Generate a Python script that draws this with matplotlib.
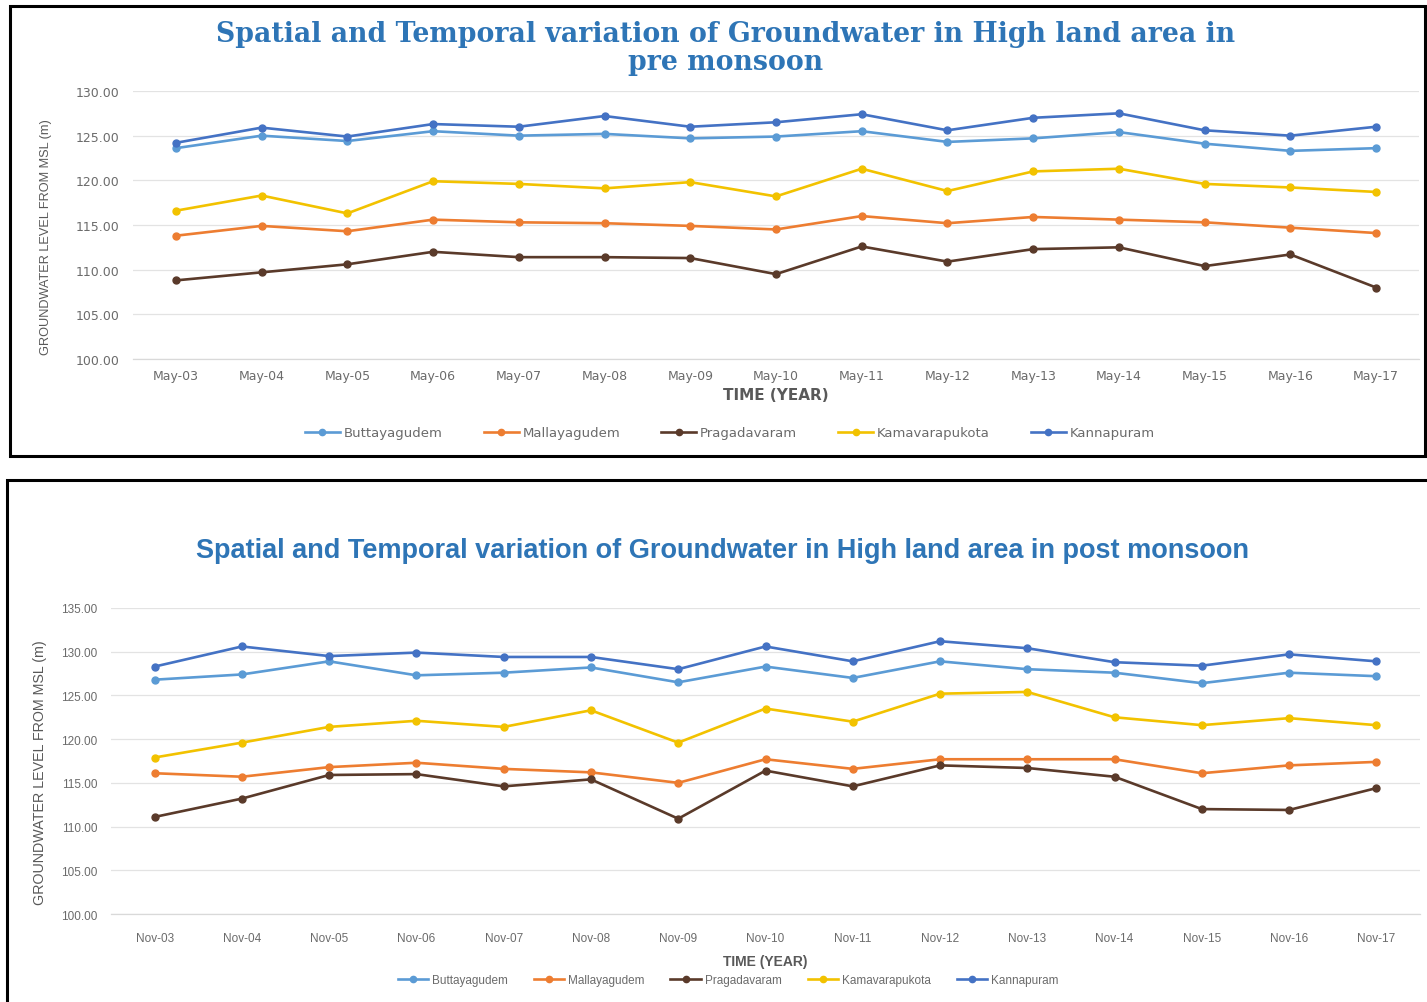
import matplotlib
matplotlib.use("Agg")
import matplotlib.pyplot as plt
from matplotlib.patches import Rectangle

# ---------------- data ----------------
pre_labels = ["May-03", "May-04", "May-05", "May-06", "May-07", "May-08", "May-09", "May-10",
              "May-11", "May-12", "May-13", "May-14", "May-15", "May-16", "May-17"]
post_labels = ["Nov-03", "Nov-04", "Nov-05", "Nov-06", "Nov-07", "Nov-08", "Nov-09", "Nov-10",
               "Nov-11", "Nov-12", "Nov-13", "Nov-14", "Nov-15", "Nov-16", "Nov-17"]
series_names = ["Buttayagudem", "Mallayagudem", "Pragadavaram", "Kamavarapukota", "Kannapuram"]

pre_buttayagudem = [123.6, 125.0, 124.4, 125.5, 125.0, 125.2, 124.7, 124.9, 125.5, 124.3, 124.7, 125.4, 124.1, 123.3, 123.6]
pre_mallayagudem = [113.8, 114.9, 114.3, 115.6, 115.3, 115.2, 114.9, 114.5, 116.0, 115.2, 115.9, 115.6, 115.3, 114.7, 114.1]
pre_pragadavaram = [108.8, 109.7, 110.6, 112.0, 111.4, 111.4, 111.3, 109.5, 112.6, 110.9, 112.3, 112.5, 110.4, 111.7, 108.0]
pre_kamavarapukota = [116.6, 118.3, 116.3, 119.9, 119.6, 119.1, 119.8, 118.2, 121.3, 118.8, 121.0, 121.3, 119.6, 119.2, 118.7]
pre_kannapuram = [124.2, 125.9, 124.9, 126.3, 126.0, 127.2, 126.0, 126.5, 127.4, 125.6, 127.0, 127.5, 125.6, 125.0, 126.0]

post_buttayagudem = [126.8, 127.4, 128.9, 127.3, 127.6, 128.2, 126.5, 128.3, 127.0, 128.9, 128.0, 127.6, 126.4, 127.6, 127.2]
post_mallayagudem = [116.1, 115.7, 116.8, 117.3, 116.6, 116.2, 115.0, 117.7, 116.6, 117.7, 117.7, 117.7, 116.1, 117.0, 117.4]
post_pragadavaram = [111.1, 113.2, 115.9, 116.0, 114.6, 115.4, 110.9, 116.4, 114.6, 117.0, 116.7, 115.7, 112.0, 111.9, 114.4]
post_kamavarapukota = [117.9, 119.6, 121.4, 122.1, 121.4, 123.3, 119.6, 123.5, 122.0, 125.2, 125.4, 122.5, 121.6, 122.4, 121.6]
post_kannapuram = [128.3, 130.6, 129.5, 129.9, 129.4, 129.4, 128.0, 130.6, 128.9, 131.2, 130.4, 128.8, 128.4, 129.7, 128.9]

pre_yticks = [100, 105, 110, 115, 120, 125, 130]
post_yticks = [100, 105, 110, 115, 120, 125, 130, 135]

colors = ["#5B9BD5", "#ED7D31", "#5A3A2A", "#F2C200", "#4472C4"]

W, H = 1427, 1003
fig = plt.figure(figsize=(W / 100, H / 100), dpi=100)
fig.patch.set_facecolor("white")

def fx(px):
    return px / W

def fy(py):
    return 1 - py / H

# panel borders
fig.add_artist(Rectangle((fx(10), fy(457)), fx(1425) - fx(10), fy(7) - fy(457),
                         transform=fig.transFigure, fill=False, edgecolor="black", lw=2.2))
fig.add_artist(Rectangle((fx(7), fy(1010)), fx(1435) - fx(7), fy(481) - fy(1010),
                         transform=fig.transFigure, fill=False, edgecolor="black", lw=2.2))

tick_grey = "#6b6b6b"
title_blue = "#2E75B6"
serif = ["DejaVu Serif"]
wide = ["DejaVu Sans"]
narrow = ["Liberation Sans", "DejaVu Sans"]


def style_axes(ax, labels, yticks, ylim, tickfont, tickcolor, ticksize):
    ax.set_xlim(-0.5, len(labels) - 0.5)
    ax.set_ylim(*ylim)
    ax.set_yticks(yticks)
    ax.set_yticklabels([f"{v:.2f}" for v in yticks], family=tickfont, color=tickcolor, fontsize=ticksize)
    ax.set_xticks(range(len(labels)))
    ax.set_xticklabels(labels, family=tickfont, color=tickcolor, fontsize=ticksize)
    ax.tick_params(length=0, pad=10)
    ax.grid(axis="y", color="#e3e3e3", lw=0.9)
    ax.set_axisbelow(True)
    for s in ["top", "right", "left"]:
        ax.spines[s].set_visible(False)
    ax.spines["bottom"].set_color("#d9d9d9")
    ax.spines["bottom"].set_linewidth(0.9)


# ---------------- top chart ----------------
ax1 = fig.add_axes([fx(133), fy(360), fx(1419) - fx(133), fy(92) - fy(360)])
pre_series = [pre_buttayagudem, pre_mallayagudem, pre_pragadavaram, pre_kamavarapukota, pre_kannapuram]
x = list(range(len(pre_labels)))
lines1 = []
for name, vals, c in zip(series_names, pre_series, colors):
    ln, = ax1.plot(x, vals, color=c, lw=1.9, marker="o", markersize=5, label=name)
    lines1.append(ln)
style_axes(ax1, pre_labels, pre_yticks, (100, 130), wide, tick_grey, 9)
ax1.tick_params(axis="x", pad=7)
ax1.tick_params(axis="y", pad=10)
ax1.set_xlabel("TIME (YEAR)", family=wide, fontsize=11, fontweight="bold", color="#595959", labelpad=4)
fig.text(fx(46), fy(237), "GROUNDWATER LEVEL FROM MSL (m)", rotation=90, ha="center", va="center",
         family=narrow, fontsize=9.2, color="#595959")
fig.text(fx(726), fy(34), "Spatial and Temporal variation of Groundwater in High land area in",
         ha="center", va="center", family=serif, fontsize=19.3, fontweight="bold", color=title_blue)
fig.text(fx(726), fy(62), "pre monsoon", ha="center", va="center", family=serif, fontsize=19.3,
         fontweight="bold", color=title_blue)
fig.legend(handles=lines1, loc="center", bbox_to_anchor=(fx(730), fy(434)), ncol=5, frameon=False,
           prop={"family": wide, "size": 9.5}, labelcolor=tick_grey, handlelength=2.65,
           columnspacing=3.1, handletextpad=0.3, markerscale=0.9)

# ---------------- bottom chart ----------------
ax2 = fig.add_axes([fx(111), fy(915), fx(1420) - fx(111), fy(609) - fy(915)])
post_series = [post_buttayagudem, post_mallayagudem, post_pragadavaram, post_kamavarapukota, post_kannapuram]
lines2 = []
for name, vals, c in zip(series_names, post_series, colors):
    ln, = ax2.plot(x, vals, color=c, lw=1.9, marker="o", markersize=5, label=name)
    lines2.append(ln)
style_axes(ax2, post_labels, post_yticks, (100, 135), narrow, tick_grey, 8.5)
ax2.tick_params(axis="x", pad=13)
ax2.set_xlabel("TIME (YEAR)", family=narrow, fontsize=10, fontweight="bold", color="#595959", labelpad=7)
fig.text(fx(40), fy(773), "GROUNDWATER LEVEL FROM MSL (m)", rotation=90, ha="center", va="center",
         family=narrow, fontsize=10.3, color="#595959")
fig.text(fx(722), fy(551), "Spatial and Temporal variation of Groundwater in High land area in post monsoon",
         ha="center", va="center", family=narrow, fontsize=19.5, fontweight="bold", color=title_blue)
fig.legend(handles=lines2, loc="center", bbox_to_anchor=(fx(728), fy(981)), ncol=5, frameon=False,
           prop={"family": narrow, "size": 8.5}, labelcolor=tick_grey, handlelength=2.6,
           columnspacing=2.2, handletextpad=0.3, markerscale=0.9)

fig.savefig("out.png", dpi=100, facecolor="white")
